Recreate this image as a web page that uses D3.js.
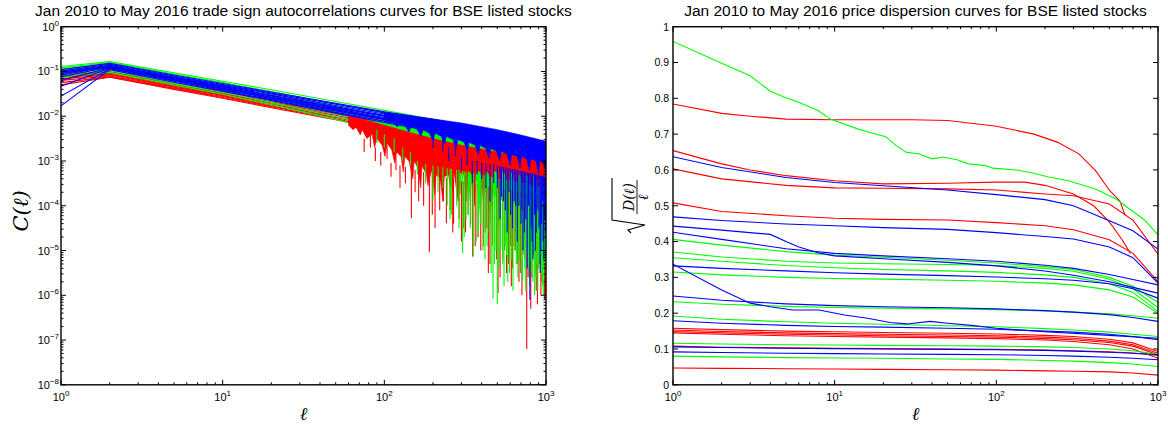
<!DOCTYPE html>
<html>
<head>
<meta charset="utf-8">
<script src="https://cdnjs.cloudflare.com/ajax/libs/d3/7.8.5/d3.min.js"></script>
<style>
body { margin: 0; background: #fff; }
svg { display: block; }
text { font-family: "Liberation Sans", Arial, sans-serif; fill: #000; }
</style>
</head>
<body>
<div id="chart"></div>
<script>
// ---- left panel: trade sign autocorrelation, log10 C(l) read at these lags ----
const acfLags = [1, 2, 5, 10, 20, 50, 100, 200, 500, 1000];

const acfGreen = [
    [-0.89, -0.78, -1.03, -1.22, -1.41, -1.67, -1.87, -2.07, -2.35, -2.62],
    [-0.92, -0.80, -1.06, -1.25, -1.45, -1.72, -1.93, -2.14, -2.44, -2.72],
    [-0.95, -0.83, -1.10, -1.30, -1.50, -1.78, -2.00, -2.22, -2.54, -2.84],
    [-0.98, -0.86, -1.13, -1.33, -1.54, -1.83, -2.06, -2.29, -2.63, -2.95],
    [-1.01, -0.90, -1.17, -1.38, -1.59, -1.89, -2.13, -2.37, -2.73, -3.05],
    [-1.05, -0.94, -1.21, -1.42, -1.64, -1.95, -2.20, -2.45, -2.83, -3.15],
    [-1.09, -0.98, -1.26, -1.47, -1.69, -2.01, -2.27, -2.53, -2.93, -3.25],
    [-1.13, -1.02, -1.30, -1.51, -1.74, -2.07, -2.34, -2.62, -3.03, -3.36]
];

const acfRed = [
    [-1.04, -1.00, -1.27, -1.45, -1.65, -1.88, -2.07, -2.27, -2.57, -2.85],
    [-1.07, -1.02, -1.29, -1.48, -1.68, -1.92, -2.11, -2.32, -2.63, -2.92],
    [-1.10, -1.04, -1.31, -1.50, -1.70, -1.95, -2.15, -2.37, -2.69, -2.99],
    [-1.13, -1.06, -1.33, -1.52, -1.73, -1.98, -2.19, -2.42, -2.75, -3.06],
    [-1.16, -1.08, -1.35, -1.54, -1.75, -2.01, -2.22, -2.46, -2.81, -3.13],
    [-1.20, -1.10, -1.37, -1.56, -1.77, -2.03, -2.25, -2.50, -2.87, -3.20],
    [-1.25, -1.12, -1.38, -1.58, -1.79, -2.06, -2.28, -2.53, -2.92, -3.26],
    [-1.30, -1.13, -1.40, -1.60, -1.81, -2.08, -2.30, -2.56, -2.96, -3.32]
];

const acfBlue = [
    [-0.96, -0.82, -1.08, -1.27, -1.46, -1.71, -1.90, -2.07, -2.33, -2.58],
    [-0.99, -0.84, -1.10, -1.29, -1.48, -1.73, -1.92, -2.10, -2.36, -2.62],
    [-1.02, -0.86, -1.12, -1.31, -1.50, -1.76, -1.95, -2.13, -2.40, -2.66],
    [-1.05, -0.87, -1.14, -1.33, -1.53, -1.79, -1.98, -2.16, -2.43, -2.70],
    [-1.08, -0.89, -1.16, -1.35, -1.55, -1.81, -2.00, -2.19, -2.47, -2.74],
    [-1.12, -0.90, -1.17, -1.37, -1.57, -1.83, -2.03, -2.22, -2.50, -2.78],
    [-1.20, -0.92, -1.19, -1.39, -1.59, -1.86, -2.06, -2.25, -2.54, -2.82],
    [-1.33, -0.93, -1.20, -1.40, -1.61, -1.88, -2.08, -2.28, -2.57, -2.86],
    [-1.55, -0.94, -1.22, -1.42, -1.63, -1.91, -2.11, -2.31, -2.61, -2.90],
    [-1.77, -0.96, -1.24, -1.44, -1.65, -1.93, -2.14, -2.34, -2.65, -2.95],
    [-1.00, -0.88, -1.15, -1.34, -1.54, -1.80, -1.99, -2.18, -2.45, -2.72],
    [-1.04, -0.91, -1.18, -1.38, -1.58, -1.85, -2.05, -2.24, -2.52, -2.80]
];

// noisy region of each colour group: upper edge [lag, log10] and jagged lower edge [lag, log10]
const redTop = [[60,-2.00],[80,-2.10],[100,-2.20],[150,-2.38],[200,-2.50],[300,-2.65],[500,-2.80],[700,-2.90],[1000,-3.00]];
const redEdge = [[60,-2.2],[64,-2.3],[67,-2.25],[71,-2.42],[73,-2.3],[78,-2.5],[84,-2.4],[87,-2.7],[90,-2.5],[97,-2.65],
    [101,-2.9],[104,-2.6],[111,-2.75],[116,-3.05],[119,-2.8],[127,-2.9],[131,-3.25],[134,-2.9],[142,-3.0],[150,-3.4],
    [153,-3.0],[161,-3.15],[168,-3.6],[171,-3.1],[182,-3.3],[186,-3.55],[196,-3.2],[205,-3.75],[209,-3.3],[222,-3.4],
    [230,-3.9],[235,-3.35],[250,-3.3],[262,-3.7],[270,-3.25],[286,-3.9],[292,-3.25],[310,-3.3],[322,-3.9],[330,-3.2],
    [348,-3.3],[362,-4.0],[370,-3.2],[395,-3.25],[410,-3.9],[420,-3.2],[445,-3.3],[462,-4.0],[470,-3.2],[500,-3.25],
    [520,-4.1],[530,-3.2],[565,-3.3],[585,-4.0],[595,-3.2],[630,-3.3],[655,-4.1],[668,-3.25],[705,-3.35],[730,-4.2],
    [745,-3.3],[790,-3.35],[815,-4.0],[830,-3.3],[880,-3.4],[905,-4.2],[920,-3.35],[960,-3.45],[985,-4.1],[1000,-3.4]];
const greenTop = [[80,-2.05],[100,-2.10],[150,-2.22],[200,-2.30],[300,-2.42],[500,-2.58],[700,-2.68],[1000,-2.80]];
const greenEdge = [[80,-2.2],[85,-2.3],[88,-2.25],[94,-2.45],[98,-2.32],[106,-2.55],[110,-2.4],[118,-2.5],[124,-2.75],
    [128,-2.5],[138,-2.6],[145,-2.9],[149,-2.62],[160,-2.75],[168,-3.05],[172,-2.75],[185,-2.9],[193,-3.25],[198,-2.88],
    [212,-3.0],[222,-3.45],[228,-3.0],[245,-3.1],[256,-3.6],[262,-3.1],[282,-3.2],[295,-3.75],[302,-3.2],[325,-3.3],
    [340,-3.9],[348,-3.3],[375,-3.45],[392,-4.2],[400,-3.6],[432,-3.7],[450,-4.4],[460,-3.75],[495,-3.8],[515,-4.5],
    [525,-3.85],[560,-3.9],[585,-4.6],[596,-3.95],[640,-4.0],[662,-4.7],[675,-4.0],[720,-4.05],[745,-4.8],[760,-4.05],
    [810,-4.1],[835,-4.85],[850,-4.1],[900,-4.15],[925,-4.9],[940,-4.15],[975,-4.2],[1000,-4.3]];
const blueTop = [[100,-1.92],[200,-2.06],[300,-2.15],[500,-2.30],[700,-2.42],[1000,-2.56]];
const blueEdge = [[100,-2.08],[106,-2.15],[112,-2.12],[120,-2.24],[125,-2.16],[135,-2.22],[142,-2.35],[147,-2.22],
    [160,-2.3],[168,-2.45],[174,-2.3],[190,-2.38],[200,-2.55],[206,-2.38],[225,-2.45],[236,-2.62],[242,-2.45],[265,-2.52],
    [278,-2.72],[285,-2.52],[312,-2.58],[326,-2.8],[334,-2.58],[365,-2.65],[382,-2.88],[390,-2.65],[425,-2.72],[445,-2.95],
    [455,-2.72],[495,-2.78],[518,-3.0],[528,-2.78],[575,-2.85],[600,-3.1],[612,-2.85],[665,-2.9],[690,-3.15],[702,-2.9],
    [760,-2.95],[790,-3.2],[805,-2.95],[870,-3.0],[900,-3.3],[915,-3.0],[965,-3.05],[1000,-3.25]];

// deep downward spikes [lag, log10 C]
const greenSpikes = [[90,-2.6],[100,-2.7],[115,-2.8],[130,-3.0],[145,-3.1],[160,-3.3],[180,-3.5],[200,-3.9],[215,-3.7],
    [230,-3.6],[245,-4.0],[255,-4.3],[260,-4.2],[280,-4.0],[290,-4.5],[305,-5.06],[312,-4.7],[320,-4.3],[330,-4.2],
    [340,-4.5],[355,-5.1],[370,-4.8],[382,-4.6],[395,-4.4],[408,-5.0],[420,-5.2],[432,-4.9],[445,-4.6],[458,-5.5],
    [470,-6.07],[480,-5.3],[490,-5.0],[500,-6.2],[515,-5.4],[525,-5.0],[540,-5.3],[550,-5.8],[560,-4.9],[570,-5.1],
    [580,-5.7],[595,-5.5],[610,-5.2],[625,-5.9],[640,-5.0],[655,-5.3],[670,-5.6],[685,-5.2],[700,-5.5],[715,-5.7],
    [730,-5.0],[740,-5.4],[750,-5.9],[765,-5.1],[780,-5.4],[790,-5.8],[800,-5.2],[815,-5.5],[830,-5.7],[840,-5.0],
    [850,-6.0],[865,-5.6],[880,-5.3],[890,-5.9],[900,-5.4],[915,-5.2],[930,-5.1],[940,-5.5],[950,-5.8],[962,-6.0],
    [975,-5.3],[985,-5.2],[990,-5.6],[1000,-6.0]];
const redSpikes = [[75,-2.8],[82,-2.7],[88,-3.0],[95,-3.1],[104,-2.95],[110,-3.35],[118,-3.2],[125,-3.6],[135,-3.5],
    [147,-4.28],[155,-3.7],[163,-3.9],[175,-4.0],[190,-5.03],[198,-4.2],[206,-4.5],[220,-4.1],[232,-3.9],[242,-4.39],
    [255,-4.1],[265,-4.6],[268,-4.4],[290,-4.3],[300,-4.8],[310,-4.5],[318,-4.6],[330,-4.2],[342,-4.4],[352,-5.14],
    [365,-4.9],[380,-4.7],[395,-5.0],[410,-4.9],[420,-4.6],[430,-4.5],[440,-5.5],[450,-5.3],[465,-4.9],[480,-4.8],
    [495,-5.2],[505,-5.95],[520,-5.6],[540,-5.2],[555,-5.0],[570,-5.5],[585,-5.3],[600,-4.9],[610,-5.8],[620,-5.4],
    [635,-4.9],[650,-5.0],[665,-5.3],[680,-5.7],[695,-5.5],[710,-6.0],[720,-5.1],[740,-5.2],[760,-7.2],[775,-5.6],
    [790,-5.3],[805,-6.3],[820,-5.6],[835,-5.1],[855,-5.5],[870,-5.9],[885,-6.2],[900,-5.0],[915,-5.3],[930,-6.0],
    [945,-5.7],[960,-5.4],[970,-5.2],[980,-6.1],[990,-6.0],[1000,-5.8]];
const blueSpikes = [[200,-2.7],[230,-2.8],[250,-3.0],[275,-2.9],[300,-3.2],[325,-3.1],[350,-3.5],[375,-3.3],[400,-3.4],
    [425,-3.6],[450,-3.9],[475,-3.5],[500,-3.6],[520,-4.3],[530,-3.8],[545,-3.9],[560,-4.1],[575,-4.6],[590,-3.7],
    [605,-4.2],[620,-4.5],[635,-3.9],[650,-4.0],[665,-4.8],[680,-4.0],[700,-4.4],[710,-4.1],[720,-5.0],[735,-4.6],
    [750,-4.3],[765,-5.4],[780,-4.0],[795,-6.1],[810,-4.5],[820,-4.8],[830,-5.2],[850,-4.2],[860,-5.0],[870,-4.6],
    [890,-4.1],[905,-4.5],[920,-5.5],[930,-5.0],[940,-4.4],[950,-3.9],[960,-4.8],[970,-5.2],[980,-4.3],[990,-4.6],
    [1000,-4.2]];

// ---- right panel: price dispersion sqrt(D(l)/l) ----
const dispLags = [1, 2, 5, 10, 20, 50, 100, 200, 300, 500, 700, 1000];

const dispRed = [
    [0.603, 0.575, 0.557, 0.550, 0.549, 0.547, 0.544, 0.533, 0.528, 0.505, 0.460, 0.365],
    [0.508, 0.484, 0.472, 0.465, 0.462, 0.460, 0.453, 0.444, 0.433, 0.405, 0.367, 0.288],
    [0.158, 0.154, 0.150, 0.148, 0.146, 0.144, 0.142, 0.138, 0.135, 0.127, 0.117, 0.093],
    [0.153, 0.149, 0.145, 0.143, 0.141, 0.139, 0.137, 0.133, 0.130, 0.122, 0.112, 0.088],
    [0.149, 0.145, 0.141, 0.139, 0.137, 0.135, 0.133, 0.129, 0.126, 0.118, 0.108, 0.084],
    [0.145, 0.141, 0.137, 0.135, 0.133, 0.131, 0.129, 0.125, 0.121, 0.112, 0.100, 0.074],
    [0.108, 0.105, 0.103, 0.102, 0.101, 0.100, 0.099, 0.097, 0.095, 0.092, 0.089, 0.082],
    [0.047, 0.046, 0.045, 0.044, 0.043, 0.042, 0.041, 0.039, 0.038, 0.036, 0.033, 0.027]
];
const dispGreen = [
    [0.406, 0.390, 0.372, 0.362, 0.356, 0.348, 0.340, 0.330, 0.322, 0.300, 0.275, 0.230],
    [0.371, 0.357, 0.345, 0.340, 0.338, 0.336, 0.333, 0.325, 0.317, 0.295, 0.268, 0.215],
    [0.355, 0.345, 0.333, 0.327, 0.322, 0.318, 0.314, 0.307, 0.300, 0.282, 0.258, 0.205],
    [0.315, 0.307, 0.300, 0.297, 0.295, 0.292, 0.289, 0.284, 0.279, 0.265, 0.245, 0.200],
    [0.232, 0.225, 0.219, 0.216, 0.214, 0.212, 0.210, 0.206, 0.203, 0.198, 0.193, 0.186],
    [0.192, 0.183, 0.176, 0.172, 0.169, 0.165, 0.162, 0.157, 0.153, 0.147, 0.141, 0.135],
    [0.116, 0.114, 0.112, 0.111, 0.110, 0.109, 0.108, 0.106, 0.104, 0.100, 0.095, 0.085],
    [0.080, 0.078, 0.076, 0.075, 0.074, 0.072, 0.071, 0.068, 0.066, 0.062, 0.058, 0.051]
];
const dispBlue = [
    [0.637, 0.607, 0.579, 0.565, 0.556, 0.544, 0.531, 0.517, 0.500, 0.458, 0.430, 0.379],
    [0.469, 0.459, 0.449, 0.444, 0.439, 0.434, 0.425, 0.414, 0.407, 0.385, 0.355, 0.284],
    [0.426, 0.406, 0.380, 0.367, 0.360, 0.352, 0.345, 0.334, 0.325, 0.308, 0.294, 0.279],
    [0.332, 0.325, 0.318, 0.313, 0.309, 0.305, 0.301, 0.296, 0.292, 0.282, 0.268, 0.242],
    [0.248, 0.236, 0.226, 0.221, 0.218, 0.215, 0.212, 0.207, 0.203, 0.196, 0.188, 0.177],
    [0.179, 0.172, 0.166, 0.163, 0.161, 0.158, 0.155, 0.150, 0.147, 0.141, 0.135, 0.126],
    [0.106, 0.104, 0.102, 0.101, 0.100, 0.099, 0.098, 0.096, 0.094, 0.091, 0.088, 0.084],
    [0.092, 0.090, 0.088, 0.087, 0.086, 0.085, 0.084, 0.082, 0.080, 0.077, 0.074, 0.070]
];

// curves that need their own lags [lag, value]
const dispRedPts = [
    [[1,0.784],[2,0.758],[3,0.750],[5,0.742],[10,0.740],[20,0.740],[30,0.740],[50,0.738],[100,0.722],
     [171,0.700],[240,0.677],[324,0.645],[411,0.598],[503,0.542],[580,0.514],[627,0.473]],
    [[1,0.654],[2,0.617],[3,0.600],[5,0.584],[10,0.570],[20,0.561],[50,0.563],[100,0.566],[150,0.566],
     [200,0.557],[300,0.533],[400,0.500],[500,0.455],[600,0.405],[675,0.367]]
];
const dispGreenPts = [
    [[1,0.959],[2,0.898],[3,0.863],[4,0.820],[4.9,0.803],[6,0.789],[7.9,0.766],[9.4,0.742],[14,0.714],
     [17,0.703],[20.7,0.693],[24,0.668],[27.8,0.649],[33,0.645],[40,0.631],[47,0.636],[58,0.628],[67,0.617],
     [86,0.612],[95,0.605],[133,0.600],[171,0.591],[207,0.581],[279,0.570],[411,0.547],[550,0.519],
     [822,0.461],[1000,0.419]]
];
const dispBluePts = [
    [[1,0.443],[2,0.432],[4,0.420],[5,0.400],[6,0.385],[8,0.368],[10,0.360],[20,0.352],[50,0.342],
     [100,0.332],[200,0.318],[300,0.306],[500,0.288],[700,0.272],[1000,0.256]],
    [[1,0.337],[2,0.265],[3,0.228],[4,0.218],[5.5,0.209],[8,0.209],[11.5,0.195],[16,0.186],[22,0.174],
     [28,0.170],[39,0.177],[50,0.172],[70,0.166],[100,0.158],[200,0.148],[500,0.138],[1000,0.130]]
];

const COLORS = { red: "#ff0000", green: "#00ff00", blue: "#0000ff" };

const svg = d3.select("#chart").append("svg")
    .attr("width", 1168)
    .attr("height", 425);

// panel boxes
const PL = { x0: 61, x1: 546, y0: 26.7, y1: 384.8 };
const PR = { x0: 673, x1: 1158, y0: 26.7, y1: 384.8 };

const xL = d3.scaleLog().domain([1, 1000]).range([PL.x0, PL.x1]);
const yL = d3.scaleLog().domain([1e-8, 1]).range([PL.y1, PL.y0]);
const xR = d3.scaleLog().domain([1, 1000]).range([PR.x0, PR.x1]);
const yR = d3.scaleLinear().domain([0, 1]).range([PR.y1, PR.y0]);

const defs = svg.append("defs");
[["clipL", PL], ["clipR", PR]].forEach(([id, p]) => {
    defs.append("clipPath").attr("id", id).append("rect")
        .attr("x", p.x0).attr("y", p.y0).attr("width", p.x1 - p.x0).attr("height", p.y1 - p.y0);
});

function isMajor(t) {
    const e = Math.log10(t);
    return Math.abs(e - Math.round(e)) < 1e-6;
}

function powLabel(g, x, y, exp, anchor) {
    const t = g.append("text")
        .attr("x", x).attr("y", y)
        .attr("text-anchor", anchor)
        .style("font-size", "11px");
    t.append("tspan").text("10");
    t.append("tspan").attr("dy", -5).style("font-size", "8px")
        .text(exp < 0 ? "\u2212" + (-exp) : String(exp));
}

// ---------------- left panel ----------------
const gL = svg.append("g").attr("clip-path", "url(#clipL)");
const lineL = d3.line().x(d => xL(d[0])).y(d => yL(Math.pow(10, d[1])));

function drawCurves(curves, color) {
    curves.forEach(c => {
        gL.append("path")
            .datum(acfLags.map((l, i) => [l, c[i]]))
            .attr("d", lineL)
            .attr("fill", "none")
            .attr("stroke", color)
            .attr("stroke-width", 1.1);
    });
}

function drawNoise(top, edge, color) {
    // outline: upper edge left to right, jagged lower edge back
    const outline = top.concat(edge.slice().reverse());
    gL.append("path")
        .datum(outline)
        .attr("d", d => lineL(d) + "Z")
        .attr("fill", color)
        .attr("stroke", color)
        .attr("stroke-width", 0.6);
}

function drawSpikes(top, spikes, color) {
    const topAt = d3.scaleLinear()
        .domain(top.map(d => Math.log10(d[0])))
        .range(top.map(d => d[1]))
        .clamp(true);
    spikes.forEach(s => {
        // start a little below the upper edge so the spike hangs from the noisy mass
        const start = Math.max(topAt(Math.log10(s[0])) - 0.8, s[1] + 0.3);
        gL.append("line")
            .attr("x1", xL(s[0])).attr("x2", xL(s[0]))
            .attr("y1", yL(Math.pow(10, start)))
            .attr("y2", yL(Math.pow(10, s[1])))
            .attr("stroke", color)
            .attr("stroke-width", 1.1);
    });
}

drawCurves(acfRed, COLORS.red);
drawCurves(acfGreen, COLORS.green);
drawNoise(greenTop, greenEdge, COLORS.green);
drawNoise(redTop, redEdge, COLORS.red);
drawSpikes(redTop, redSpikes, COLORS.red);
drawSpikes(greenTop, greenSpikes, COLORS.green);
drawCurves(acfBlue, COLORS.blue);
drawNoise(blueTop, blueEdge, COLORS.blue);
drawSpikes(blueTop, blueSpikes, COLORS.blue);

// ---------------- right panel ----------------
const gR = svg.append("g").attr("clip-path", "url(#clipR)");
const lineR = d3.line().x(d => xR(d[0])).y(d => yR(d[1]));

function drawDisp(rows, pts, color) {
    rows.forEach(r => {
        gR.append("path")
            .datum(dispLags.map((l, i) => [l, r[i]]))
            .attr("d", lineR)
            .attr("fill", "none").attr("stroke", color).attr("stroke-width", 1.1);
    });
    pts.forEach(p => {
        gR.append("path")
            .datum(p)
            .attr("d", lineR)
            .attr("fill", "none").attr("stroke", color).attr("stroke-width", 1.1);
    });
}
drawDisp(dispRed, dispRedPts, COLORS.red);
drawDisp(dispGreen, dispGreenPts, COLORS.green);
drawDisp(dispBlue, dispBluePts, COLORS.blue);

// ---------------- axes ----------------
function drawAxes(p, x, yTicks, yPos, yMajor) {
    const g = svg.append("g").attr("stroke", "#000").attr("stroke-width", 1);
    x.ticks().forEach(t => {
        const len = isMajor(t) ? 5 : 2.5;
        const px = x(t);
        g.append("line").attr("x1", px).attr("x2", px).attr("y1", p.y1).attr("y2", p.y1 - len);
        g.append("line").attr("x1", px).attr("x2", px).attr("y1", p.y0).attr("y2", p.y0 + len);
    });
    yTicks.forEach(t => {
        const len = yMajor(t) ? 5 : 2.5;
        const py = yPos(t);
        g.append("line").attr("x1", p.x0).attr("x2", p.x0 + len).attr("y1", py).attr("y2", py);
        g.append("line").attr("x1", p.x1).attr("x2", p.x1 - len).attr("y1", py).attr("y2", py);
    });
    svg.append("rect")
        .attr("x", p.x0).attr("y", p.y0)
        .attr("width", p.x1 - p.x0).attr("height", p.y1 - p.y0)
        .attr("fill", "none").attr("stroke", "#000").attr("stroke-width", 1.4);
    x.ticks().filter(isMajor).forEach(t => {
        powLabel(svg, x(t), p.y1 + 16, Math.round(Math.log10(t)), "middle");
    });
}

drawAxes(PL, xL, yL.ticks(), yL, isMajor);
yL.ticks().filter(isMajor).forEach(t => {
    powLabel(svg, PL.x0 - 2, yL(t) + 4, Math.round(Math.log10(t)), "end");
});

const yRTicks = d3.range(0, 11).map(i => i / 10);
drawAxes(PR, xR, yRTicks, yR, () => true);
yRTicks.forEach(t => {
    svg.append("text")
        .attr("x", PR.x0 - 4).attr("y", yR(t) + 3.8)
        .attr("text-anchor", "end")
        .style("font-size", "10.5px")
        .text(t === 0 ? "0" : t === 1 ? "1" : t.toFixed(1));
});

// ---------------- titles and labels ----------------
const titles = [
    "Jan 2010 to May 2016 trade sign autocorrelations curves for BSE listed stocks",
    "Jan 2010 to May 2016 price dispersion curves for BSE listed stocks"
];
[PL, PR].forEach((p, i) => {
    svg.append("text")
        .attr("x", (p.x0 + p.x1) / 2).attr("y", 16)
        .attr("text-anchor", "middle")
        .style("font-size", "15.5px")
        .text(titles[i]);
    svg.append("text")
        .attr("x", (p.x0 + p.x1) / 2).attr("y", 420)
        .attr("text-anchor", "middle")
        .style("font-family", "'DejaVu Serif', serif")
        .style("font-style", "italic")
        .style("font-size", "18px")
        .text("\u2113");
});

svg.append("text")
    .attr("transform", "translate(28,211) rotate(-90)")
    .attr("text-anchor", "middle")
    .style("font-family", "'DejaVu Serif', serif")
    .style("font-style", "italic")
    .style("font-size", "21px")
    .text("C(\u2113)");

const yl = svg.append("g").attr("transform", "translate(628,204) rotate(-90)");
yl.append("path")
    .attr("d", "M-29,3 L-26,0 L-21,17 L-16,-16 L26,-16")
    .attr("fill", "none").attr("stroke", "#000").attr("stroke-width", 1.1);
yl.append("text")
    .attr("x", 7).attr("y", 6)
    .attr("text-anchor", "middle")
    .style("font-family", "'DejaVu Serif', serif")
    .style("font-style", "italic")
    .style("font-size", "14px")
    .text("D(\u2113)");
yl.append("line")
    .attr("x1", -10).attr("x2", 24).attr("y1", 9).attr("y2", 9)
    .attr("stroke", "#000").attr("stroke-width", 0.9);
yl.append("text")
    .attr("x", 7).attr("y", 19.5)
    .attr("text-anchor", "middle")
    .style("font-family", "'DejaVu Serif', serif")
    .style("font-style", "italic")
    .style("font-size", "14px")
    .text("\u2113");
</script>
</body>
</html>
